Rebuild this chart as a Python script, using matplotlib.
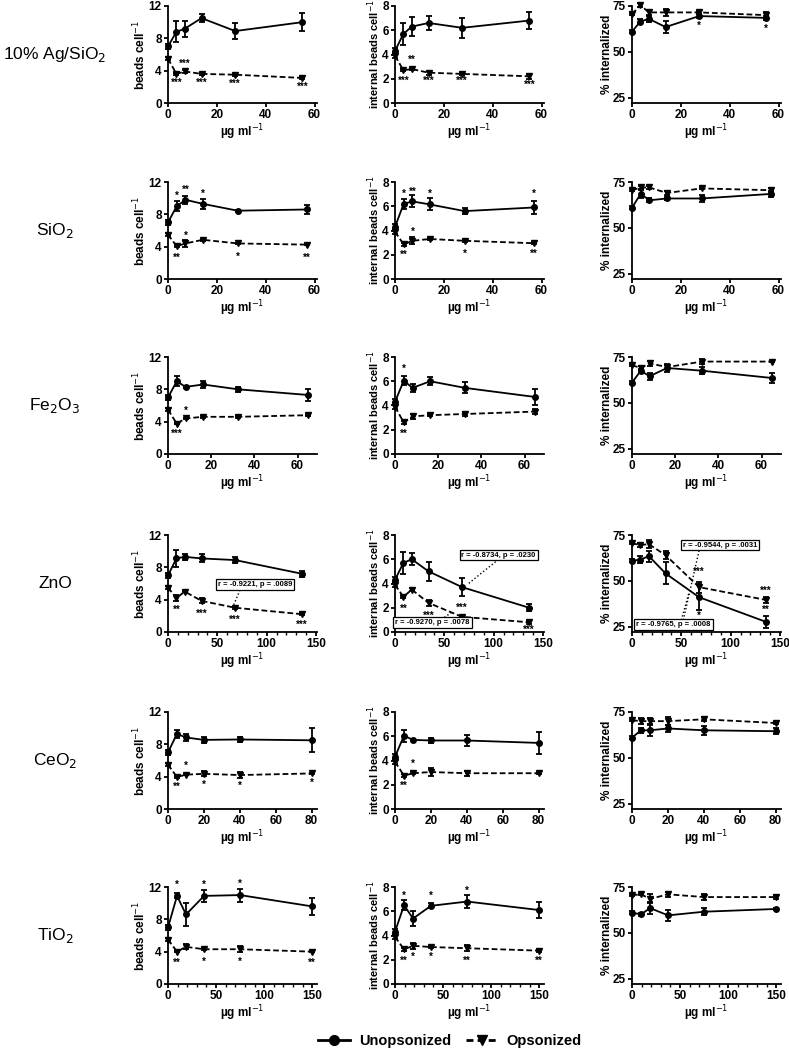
import matplotlib
matplotlib.use("Agg")
import matplotlib.pyplot as plt
from matplotlib.lines import Line2D
from matplotlib.ticker import MultipleLocator

plt.rcParams['font.family'] = ['Liberation Sans', 'DejaVu Sans']

# ---- data -------------------------------------------------------------
materials = ["10% Ag/SiO$_2$", "SiO$_2$", "Fe$_2$O$_3$", "ZnO", "CeO$_2$", "TiO$_2$"]

doses = [
    [0, 3.44, 6.875, 13.75, 27.5, 55],
    [0, 3.56, 7.125, 14.25, 28.5, 57],
    [0, 4.06, 8.125, 16.25, 32.5, 65],
    [0, 8.5, 17, 34, 68, 136],
    [0, 5, 10, 20, 40, 80],
    [0, 9.4, 18.75, 37.5, 75, 150],
]
x_max = [61, 61, 69, 151, 83, 155]
x_step = [20, 20, 20, 50, 20, 50]

# beads per cell
beads_unop = [
    [7.0, 8.8, 9.2, 10.5, 8.9, 10.0],
    [7.0, 9.0, 9.8, 9.3, 8.45, 8.6],
    [7.0, 9.0, 8.3, 8.6, 8.0, 7.3],
    [7.0, 9.1, 9.3, 9.1, 8.9, 7.2],
    [7.0, 9.3, 8.85, 8.55, 8.6, 8.5],
    [7.0, 10.9, 8.6, 10.9, 11.0, 9.6],
]
beads_unop_err = [
    [0.3, 1.3, 1.0, 0.5, 1.0, 1.1],
    [0.3, 0.6, 0.5, 0.6, 0.1, 0.5],
    [0.3, 0.6, 0.1, 0.4, 0.35, 0.7],
    [0.3, 1.0, 0.4, 0.5, 0.4, 0.4],
    [0.3, 0.5, 0.45, 0.4, 0.35, 1.5],
    [0.3, 0.3, 1.4, 0.7, 0.8, 1.1],
]
beads_op = [
    [5.5, 3.6, 3.9, 3.6, 3.5, 3.1],
    [5.5, 4.05, 4.4, 4.85, 4.4, 4.25],
    [5.5, 3.75, 4.4, 4.6, 4.6, 4.8],
    [5.5, 4.2, 5.0, 3.85, 3.0, 2.2],
    [5.5, 3.95, 4.25, 4.35, 4.2, 4.4],
    [5.5, 4.0, 4.6, 4.3, 4.3, 4.0],
]
beads_op_err = [
    [0.2, 0.15, 0.15, 0.1, 0.1, 0.15],
    [0.2, 0.1, 0.4, 0.1, 0.1, 0.1],
    [0.2, 0.1, 0.1, 0.1, 0.1, 0.1],
    [0.2, 0.4, 0.1, 0.3, 0.1, 0.1],
    [0.2, 0.1, 0.1, 0.3, 0.4, 0.1],
    [0.2, 0.1, 0.3, 0.1, 0.4, 0.1],
]

# internal beads per cell
internal_unop = [
    [4.3, 5.7, 6.3, 6.6, 6.2, 6.8],
    [4.3, 6.2, 6.4, 6.15, 5.6, 5.9],
    [4.3, 6.05, 5.45, 6.0, 5.45, 4.7],
    [4.3, 5.7, 6.0, 5.0, 3.7, 2.0],
    [4.3, 6.05, 5.7, 5.65, 5.65, 5.45],
    [4.3, 6.5, 5.4, 6.45, 6.8, 6.1],
]
internal_unop_err = [
    [0.2, 0.9, 0.8, 0.6, 0.8, 0.7],
    [0.2, 0.4, 0.5, 0.5, 0.25, 0.5],
    [0.2, 0.4, 0.3, 0.35, 0.45, 0.65],
    [0.2, 0.9, 0.5, 0.8, 0.75, 0.3],
    [0.2, 0.5, 0.1, 0.2, 0.45, 0.9],
    [0.2, 0.4, 0.6, 0.2, 0.5, 0.65],
]
internal_op = [
    [3.9, 2.7, 2.8, 2.5, 2.4, 2.2],
    [3.9, 2.85, 3.15, 3.3, 3.15, 2.95],
    [3.9, 2.6, 3.1, 3.2, 3.3, 3.5],
    [3.9, 2.9, 3.5, 2.4, 1.25, 0.8],
    [3.9, 2.75, 2.95, 3.05, 2.95, 2.95],
    [3.9, 2.85, 3.15, 3.05, 2.95, 2.75],
]
internal_op_err = [
    [0.2, 0.1, 0.1, 0.15, 0.1, 0.2],
    [0.2, 0.1, 0.3, 0.1, 0.1, 0.1],
    [0.2, 0.1, 0.2, 0.1, 0.2, 0.2],
    [0.2, 0.1, 0.1, 0.25, 0.1, 0.1],
    [0.2, 0.1, 0.1, 0.3, 0.2, 0.1],
    [0.2, 0.1, 0.25, 0.1, 0.25, 0.1],
]

# percent internalized
pct_unop = [
    [61, 66.5, 68, 63.5, 69.5, 68.5],
    [61, 68.5, 65, 66, 66, 68.5],
    [61, 67.5, 64.5, 69, 67.5, 63.5],
    [61, 61.5, 63.5, 54, 41, 27.5],
    [61, 65, 65, 66, 65, 64.5],
    [61, 60, 63.5, 59.5, 61.5, 63],
]
pct_unop_err = [
    [1, 1.5, 1.5, 3.5, 1, 1],
    [1, 2, 1, 1, 2, 1.5],
    [1, 1, 2, 2, 2, 2.5],
    [1, 2, 3, 6, 7, 3.5],
    [1, 1.5, 3, 2, 2.5, 1.5],
    [1, 1, 3.5, 3, 2, 0.5],
]
pct_op = [
    [70.5, 75.5, 71.5, 71.5, 71.5, 70],
    [70.5, 72, 72, 69, 71.5, 70.5],
    [70.5, 69, 71.5, 69.5, 72.5, 72.5],
    [70.5, 69.5, 70, 64, 46.5, 39.5],
    [70.5, 70, 70, 70, 71, 69],
    [70.5, 71, 68.5, 71, 69.5, 69.5],
]
pct_op_err = [
    [0.5, 1, 1.5, 2, 1, 1.5],
    [0.5, 1, 1, 1, 0.5, 1],
    [0.5, 1, 1.5, 1, 1.5, 0.5],
    [0.5, 1, 2, 2, 3, 1.5],
    [0.5, 1.5, 1.5, 2, 1, 0.5],
    [0.5, 0.5, 2.5, 1.5, 1.5, 1],
]

# significance marks (x, y, text) per row
stars_beads = [
    [(3.44, 2.5, "***"), (6.875, 4.9, "***"), (13.75, 2.5, "***"), (27.5, 2.4, "***"), (55, 2.0, "***")],
    [(3.56, 10.3, "*"), (7.125, 11.0, "**"), (14.25, 10.5, "*"), (7.125, 5.3, "*"),
     (3.56, 2.6, "**"), (28.5, 2.8, "*"), (57, 2.6, "**")],
    [(8.125, 5.3, "*"), (4.06, 2.5, "***")],
    [(8.5, 2.7, "**"), (34, 2.3, "***"), (68, 1.5, "***"), (136, 0.9, "***")],
    [(10, 5.3, "*"), (5, 2.7, "**"), (20, 3.0, "*"), (40, 2.9, "*"), (80, 3.2, "*")],
    [(9.4, 12.3, "*"), (37.5, 12.3, "*"), (75, 12.4, "*"), (9.4, 2.6, "**"), (37.5, 2.8, "*"),
     (75, 2.8, "*"), (150, 2.6, "**")],
]
stars_internal = [
    [(3.44, 1.8, "***"), (6.875, 3.6, "**"), (13.75, 1.8, "***"), (27.5, 1.8, "***"), (55, 1.5, "***")],
    [(3.56, 7.0, "*"), (7.125, 7.2, "**"), (14.25, 7.0, "*"), (57, 7.0, "*"), (7.125, 3.9, "*"),
     (3.56, 2.0, "**"), (28.5, 2.1, "*"), (57, 2.1, "**")],
    [(4.06, 7.0, "*"), (4.06, 1.7, "**")],
    [(8.5, 1.9, "**"), (34, 1.3, "***"), (68, 2.0, "***"), (136, 0.2, "***")],
    [(10, 3.7, "*"), (5, 1.9, "**")],
    [(9.4, 7.3, "*"), (37.5, 7.3, "*"), (75, 7.7, "*"), (9.4, 1.9, "**"), (18.75, 2.2, "*"),
     (37.5, 2.2, "*"), (75, 1.9, "**"), (150, 1.9, "**")],
]
stars_pct = [
    [(27.5, 64, "*"), (55, 62.5, "*")],
    [],
    [],
    [(68, 55, "***"), (68, 31, "*"), (136, 44.5, "***"), (136, 34, "**")],
    [],
    [],
]

# ZnO correlation boxes: (column, x, y, text) and dotted links (column, x1, y1, x2, y2)
zno_boxes = [
    (0, 88, 5.9, "r = -0.9221, p = .0089"),
    (1, 105, 6.35, "r = -0.8734, p = .0230"),
    (1, 38, 0.75, "r = -0.9270, p = .0078"),
    (2, 89, 69.5, "r = -0.9544, p = .0031"),
    (2, 42, 26, "r = -0.9765, p = .0008"),
]
zno_links = [
    (0, 73, 5.2, 66, 3.2),
    (1, 102, 5.8, 73, 3.9),
    (1, 50, 1.2, 57, 1.6),
    (2, 68, 66.5, 52, 28.5),
    (2, 50, 28.5, 58, 44),
]

ylabels = ["beads cell$^{-1}$", "internal beads cell$^{-1}$", "% internalized"]
ylims = [(0, 12), (0, 8), (22, 75)]
yticks = [[0, 4, 8, 12], [0, 2, 4, 6, 8], [25, 50, 75]]

# ---- layout -----------------------------------------------------------
W, H = 789, 1050
fig = plt.figure(figsize=(W / 100, H / 100), dpi=100)

col_left = [168, 395, 632]
col_w = 149
row_top = [6, 182, 357, 535, 712, 887]
row_h = 97

metrics = [
    (beads_unop, beads_unop_err, beads_op, beads_op_err, stars_beads),
    (internal_unop, internal_unop_err, internal_op, internal_op_err, stars_internal),
    (pct_unop, pct_unop_err, pct_op, pct_op_err, stars_pct),
]

for r in range(6):
    for c in range(3):
        ax = fig.add_axes([col_left[c] / W, 1 - (row_top[r] + row_h) / H, col_w / W, row_h / H])
        unop, unop_e, op, op_e, stars = metrics[c]
        x = doses[r]

        ax.plot(x, op[r], color='k', lw=1.3, dashes=(3.2, 1.6), marker='v', ms=4.5,
                clip_on=False, zorder=3)
        ax.errorbar(x, op[r], yerr=op_e[r], fmt='none', ecolor='k', elinewidth=1.3,
                    capsize=2.5, capthick=1.3, clip_on=False, zorder=3)
        ax.plot(x, unop[r], color='k', lw=1.3, marker='o', ms=4,
                clip_on=False, zorder=4)
        ax.errorbar(x, unop[r], yerr=unop_e[r], fmt='none', ecolor='k', elinewidth=1.3,
                    capsize=2.5, capthick=1.3, clip_on=False, zorder=4)

        for sx, sy, st in stars[r]:
            ax.text(sx, sy, st, ha='center', va='center', fontsize=7, fontweight='bold')

        ax.set_xlim(0, x_max[r])
        ax.set_ylim(*ylims[c])
        ax.set_yticks(yticks[c])
        ax.xaxis.set_major_locator(MultipleLocator(x_step[r]))
        if x_step[r] == 50:
            ax.xaxis.set_minor_locator(MultipleLocator(10))
        for s in ['top', 'right']:
            ax.spines[s].set_visible(False)
        for s in ['left', 'bottom']:
            ax.spines[s].set_linewidth(1.3)
        ax.tick_params(which='major', direction='out', length=3, width=1.3, labelsize=8.5, pad=1.5)
        ax.tick_params(which='minor', direction='out', length=1.8, width=1.0)
        for lab in ax.get_xticklabels() + ax.get_yticklabels():
            lab.set_fontweight('bold')
        ax.set_ylabel(ylabels[c], fontsize=8 if c == 1 else 8.5, fontweight='bold', labelpad=0)
        ax.set_xlabel("\u00b5g ml$^{-1}$", fontsize=8.5, fontweight='bold', labelpad=0.5)

        if r == 3:
            for bc, bx, by, bt in zno_boxes:
                if bc == c:
                    ax.text(bx, by, bt, ha='center', va='center', fontsize=5.5, fontweight='bold',
                            bbox=dict(boxstyle='square,pad=0.25', fc='white', ec='k', lw=0.9),
                            zorder=6)
            for lc, x1, y1, x2, y2 in zno_links:
                if lc == c:
                    ax.plot([x1, x2], [y1, y2], color='k', lw=1.0, ls=':', zorder=5)

    fig.text(55 / W, 1 - (row_top[r] + row_h / 2) / H, materials[r], ha='center', va='center',
             fontsize=12.5)

handles = [
    Line2D([], [], color='k', lw=2, marker='o', ms=7),
    Line2D([], [], color='k', lw=2, dashes=(2.5, 1.5), marker='v', ms=7),
]
fig.legend(handles, ["Unopsonized", "Opsonized"], loc='center', ncol=2, frameon=False,
           bbox_to_anchor=(450 / W, 1 - 1041 / H), prop={'size': 10.5, 'weight': 'bold'},
           handlelength=2.2, columnspacing=1.0, handletextpad=0.6)

fig.savefig("out.png", dpi=100)
